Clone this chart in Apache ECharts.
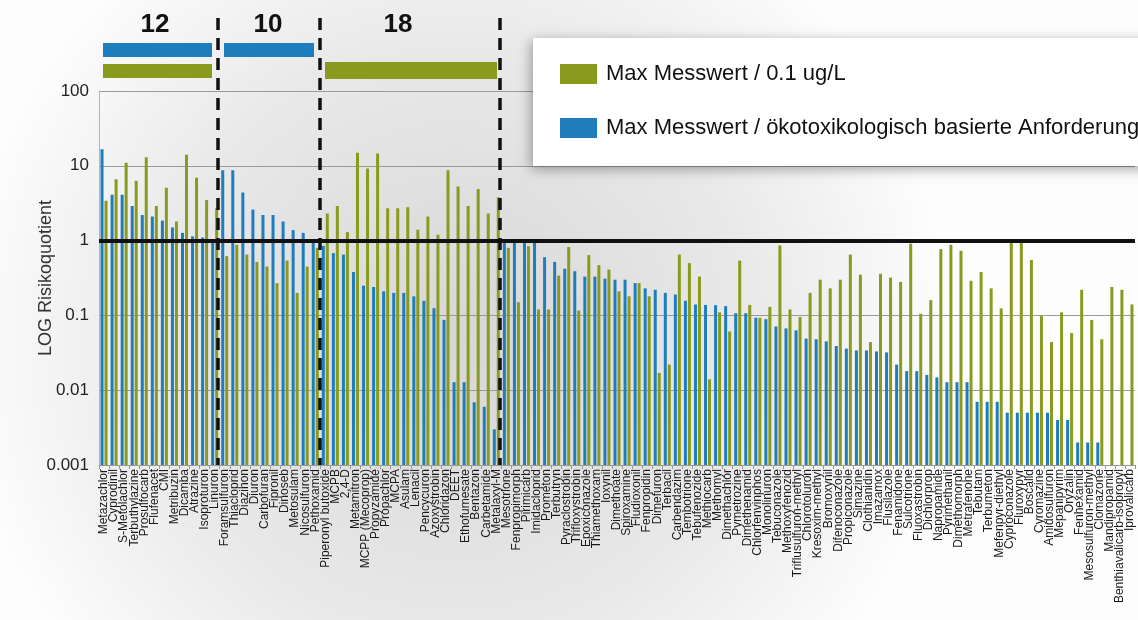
<!DOCTYPE html>
<html><head><meta charset="utf-8">
<script src="https://cdn.jsdelivr.net/npm/echarts@6/dist/echarts.min.js"></script>
<style>html,body{margin:0;padding:0;background:#fff}#c{width:1138px;height:620px}</style>
</head><body><div id="c"></div>
<script>
const categories = [
 'Metazachlor','Cyprodinil','S-Metolachlor','Terbuthylazine','Prosulfocarb','Flufenacet','CMI','Metribuzin','Dicamba','Atrazine','Isoproturon','Linuron',
 'Foramsulfuron','Thiacloprid','Diazinon','Diuron','Carbofuran','Fipronil','Dinoseb','Metosulam','Nicosulfuron','Pethoxamid',
 'Piperonyl butoxide','MCPB','2,4-D','Metamitron','MCPP (Mecoprop)','Propyzamide','Propachlor','MCPA','Asulam','Lenacil','Pencycuron','Azoxystrobin','Chloridazon','DEET','Ethofumesate','Bentazon','Carbetamide','Metalaxyl-M',
 'Mesotrione','Fenpropimorph','Pirimicarb','Imidacloprid','Prometon','Terbutryn','Pyraclostrobin','Trifloxystrobin','Epoxiconazole','Thiamethoxam','Ioxynil','Dimethoate','Spiroxamine','Fludioxonil','Fenpropidin','Dimefuron','Terbacil','Carbendazim','Tembotrione','Tebufenozide','Methiocarb','Methomyl','Dimethachlor','Pymetrozine','Dimethenamid','Chlorfenvinphos','Monolinuron','Tebuconazole','Methoxyfenozid','Triflusulfuron-methyl','Chlorotoluron','Kresoxim-methyl','Bromoxynil','Difenoconazole','Propiconazole','Simazine','Clothianidin','Imazamox','Flusilazole','Fenamidone','Sulcotrione','Fluoxastrobin','Dichlorprop','Napropamide','Pyrimethanil','Dimethomorph','Metrafenone','Tebutam','Terbumeton','Mefenpyr-diethyl','Cyproconazole','Fluroxypyr','Boscalid','Cyromazine','Amidosulfuron','Mepanipyrim','Oryzalin','Fenhexamid','Mesosulfuron-methyl','Clomazone','Mandipropamid','Benthiavalicarb-isopropyl','Iprovalicarb'
];
// Max Messwert / ökotoxikologisch basierte Anforderung (blue)
const blueValues = [
 16.6,4.1,4.1,2.9,2.2,2.1,1.85,1.5,1.27,1.14,1.1,1.05,
 8.7,8.7,4.4,2.6,2.2,2.2,1.8,1.38,1.27,1.05,
 0.85,0.68,0.65,0.38,0.25,0.24,0.21,0.2,0.2,0.18,0.157,0.125,0.087,0.0128,0.0128,0.0069,0.006,0.003,
 0.95,0.95,0.95,0.95,0.6,0.52,0.42,0.39,0.33,0.33,0.31,0.3,0.3,0.27,0.23,0.22,0.2,0.19,0.157,0.14,0.138,0.137,0.133,0.107,0.107,0.093,0.089,0.071,0.067,0.063,0.049,0.048,0.045,0.039,0.036,0.034,0.034,0.033,0.032,0.022,0.018,0.018,0.016,0.0148,0.0128,0.0128,0.0128,0.007,0.007,0.007,0.005,0.005,0.005,0.005,0.005,0.004,0.004,0.002,0.002,0.002,null,null,null
];
// Max Messwert / 0.1 ug/L (green)
const greenValues = [
 3.4,6.6,11,6.3,13,2.9,5.1,1.8,14,6.9,3.5,2.7,
 0.62,0.88,0.65,0.52,0.45,0.27,0.54,0.2,0.45,0.8,
 2.3,2.9,1.3,15,9.2,14.6,2.7,2.7,2.8,1.4,2.1,1.2,8.7,5.3,2.9,4.9,2.3,3.8,
 0.8,0.15,0.84,0.12,0.12,0.34,0.82,0.116,0.64,0.47,0.41,0.21,0.18,0.27,0.18,0.017,0.022,0.65,0.5,0.33,0.014,0.11,0.061,0.54,0.138,0.093,0.13,0.86,0.12,0.095,0.2,0.3,0.23,0.3,0.65,0.35,0.044,0.36,0.32,0.28,0.91,0.105,0.16,0.77,0.88,0.73,0.29,0.38,0.23,0.124,0.95,0.97,0.55,0.098,0.044,0.11,0.058,0.22,0.087,0.048,0.24,0.22,0.14
];
const yTickLabels = ['0.001','0.01','0.1','1','10','100'];
const groupLabels = ['12','10','18'];
const seriesGreenName = 'Max Messwert / 0.1 ug/L';
const seriesBlueName = 'Max Messwert / ökotoxikologisch basierte Anforderung';
const yAxisTitle = 'LOG Risikoquotient';

const GREEN = '#8a9a1c';
const BLUE = '#1f7dbd';
const FONT = "'Liberation Sans', Arial, sans-serif";
const LOG_MIN = -3; // axis starts at 0.001
const toAxis = v => (v == null ? null : Math.log10(v) - LOG_MIN);

const chart = echarts.init(document.getElementById('c'));

const dashedX = [218, 320, 500];
const graphics = [];
dashedX.forEach(x => graphics.push({
  type: 'line', z: 100, silent: true,
  shape: { x1: x, y1: 18, x2: x, y2: 465 },
  style: { stroke: '#111', lineWidth: 3.5, lineDash: [12, 8] }
}));
graphics.push(
  { type: 'rect', z: 90, shape: { x: 103, y: 43, width: 109, height: 14 }, style: { fill: BLUE } },
  { type: 'rect', z: 90, shape: { x: 103, y: 64, width: 109, height: 14 }, style: { fill: GREEN } },
  { type: 'rect', z: 90, shape: { x: 224, y: 43, width: 90, height: 14 }, style: { fill: BLUE } },
  { type: 'rect', z: 90, shape: { x: 325, y: 62, width: 172, height: 17 }, style: { fill: GREEN } }
);
[[155, groupLabels[0]], [268, groupLabels[1]], [398, groupLabels[2]]].forEach(([x, t]) => graphics.push({
  type: 'text', z: 90, x: x, y: 25,
  style: { text: t, fill: '#111', font: "bold 26px 'Liberation Sans', Arial, sans-serif", align: 'center', verticalAlign: 'middle' }
}));

chart.setOption({
  animation: false,
  backgroundColor: {
    type: 'radial', x: 0.4, y: 0.55, r: 0.8,
    colorStops: [{ offset: 0, color: '#d6d6d6' }, { offset: 0.6, color: '#e9e9e9' }, { offset: 1, color: '#fdfdfd' }]
  },
  textStyle: { fontFamily: FONT },
  grid: { left: 99, right: 3, top: 91, bottom: 155, containLabel: false },
  legend: {
    data: [seriesGreenName, seriesBlueName],
    orient: 'vertical', left: 533, top: 38,
    itemWidth: 37, itemHeight: 20, itemGap: 32,
    icon: 'rect',
    padding: [25, 20, 27, 27],
    backgroundColor: '#ffffff',
    shadowBlur: 12, shadowColor: 'rgba(0,0,0,0.35)', shadowOffsetX: -2, shadowOffsetY: 3,
    textStyle: { fontSize: 22, color: '#111', fontFamily: FONT, padding: [0, 0, 0, 4] },
    selectedMode: false
  },
  xAxis: {
    type: 'category', data: categories,
    axisLine: { show: true, lineStyle: { color: '#9a9a9a' } },
    axisTick: { show: true, length: 4, lineStyle: { color: '#9a9a9a' } },
    axisLabel: { interval: 0, rotate: 90, fontSize: 12, color: '#1a1a1a', margin: 4, fontFamily: FONT },
    splitLine: { show: false }
  },
  yAxis: {
    type: 'value', min: 0, max: 5, interval: 1,
    name: yAxisTitle, nameLocation: 'middle', nameGap: 44, nameMoveOverlap: false,
    nameTextStyle: { fontSize: 18, color: '#333', fontFamily: FONT },
    axisLine: { show: true, lineStyle: { color: '#b5b5b5' } },
    axisTick: { show: false },
    axisLabel: { formatter: v => yTickLabels[Math.round(v)], fontSize: 17, color: '#222', margin: 10, fontFamily: FONT },
    splitLine: { show: true, lineStyle: { color: '#9a9a9a', width: 1 } }
  },
  series: [
    {
      name: seriesBlueName, type: 'bar', barWidth: 3, barGap: '33%',
      itemStyle: { color: BLUE },
      data: blueValues.map(toAxis),
      markLine: {
        silent: true, symbol: 'none', label: { show: false },
        lineStyle: { color: '#111', width: 4, type: 'solid' },
        data: [{ yAxis: toAxis(1) }]
      }
    },
    {
      name: seriesGreenName, type: 'bar', barWidth: 3,
      itemStyle: { color: GREEN },
      data: greenValues.map(toAxis)
    }
  ],
  graphic: graphics
});
</script>
</body></html>
